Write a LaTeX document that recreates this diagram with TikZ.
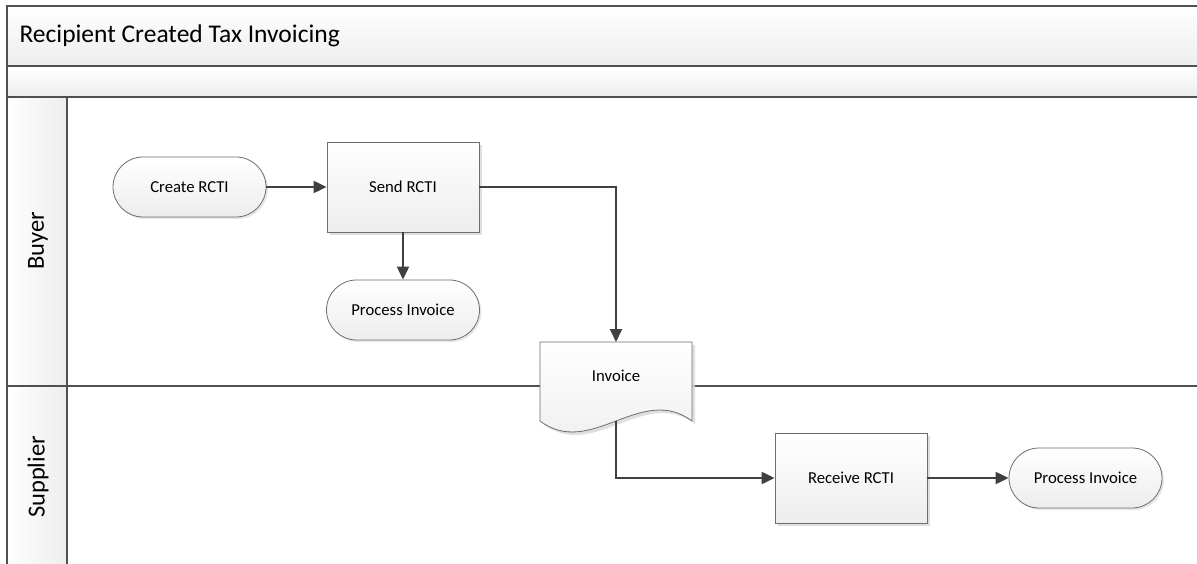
\documentclass[tikz,border=0pt]{standalone}
\usepackage{fontspec}
\setmainfont{Carlito}
\usetikzlibrary{arrows.meta,shapes.misc,calc,shadows}
\definecolor{frameline}{HTML}{505050}
\definecolor{shapeline}{HTML}{6E6E6E}
\definecolor{flowline}{HTML}{404040}
\definecolor{fillbot}{HTML}{EDEDED}
\definecolor{shadowc}{HTML}{D8D8D8}
\tikzset{
  band/.style={draw=frameline, line width=2pt, top color=white, bottom color=fillbot},
  lanehead/.style={draw=frameline, line width=1.5pt, left color=white, right color=fillbot},
  lanetext/.style={font=\fontsize{24.5}{28}\selectfont, rotate=90},
  stadium/.style={rounded rectangle, draw=shapeline, line width=0.8pt,
    top color=white, bottom color=fillbot, minimum width=153pt, minimum height=60pt,
    inner sep=0pt, font=\fontsize{16.7}{20}\selectfont,
    drop shadow={shadow xshift=2pt, shadow yshift=-2pt, fill=shadowc, opacity=0.6}},
  procbox/.style={rectangle, draw=shapeline, line width=0.8pt,
    top color=white, bottom color=fillbot, minimum width=152pt, minimum height=90pt,
    inner sep=0pt, font=\fontsize{16.7}{20}\selectfont,
    drop shadow={shadow xshift=3pt, shadow yshift=-3pt, fill=shadowc, opacity=0.8}},
  flow/.style={draw=flowline, line width=2pt, -{Triangle[length=13pt,width=12pt]}},
}
\begin{document}
\begin{tikzpicture}[x=1pt, y=-1pt]
\useasboundingbox (0,0) rectangle (1197,564);
\begin{scope}
\clip (0,0) rectangle (1197,564);
% pool header and sub-header
\draw[band] (7,6) rectangle (1210,66);
\draw[band] (7,66) rectangle (1210,97);
\node[anchor=west, font=\fontsize{25.5}{30}\selectfont] (title) at (16,36) {Recipient Created Tax Invoicing};
% lanes
\draw[draw=frameline, line width=1.5pt, fill=white] (7,97) rectangle (1210,570);
\draw[draw=frameline, line width=1.5pt] (7,386) -- (1210,386);
\draw[lanehead] (7,97) rectangle (67,386);
\draw[lanehead] (7,386) rectangle (67,570);
\node[lanetext] (buyer) at (38,241) {Buyer};
\node[lanetext] (supplier) at (38,477) {Supplier};
\end{scope}

% buyer lane shapes
\node[stadium] (create) at (189.5,187) {Create RCTI};
\node[procbox] (send) at (403,187) {Send RCTI};
\node[stadium] (procb) at (403,310) {Process Invoice};

% invoice document (wavy bottom)
\fill[shadowc, opacity=0.8] (543,345) -- (695,345) -- (695,424)
  .. controls (644,386) and (594,462) .. (543,424) -- cycle;
\shade[top color=white, bottom color=fillbot, draw=shapeline, line width=0.8pt]
  (540,342) -- (692,342) -- (692,421)
  .. controls (641,383) and (591,459) .. (540,421) -- cycle;
\node[minimum width=152pt, minimum height=70pt, inner sep=0pt,
  font=\fontsize{16.7}{20}\selectfont] (inv) at (616,376) {Invoice};
\coordinate (invtop) at (616,342);
\coordinate (invbot) at (616,421);

% supplier lane shapes
\node[procbox] (recv) at (851,478) {Receive RCTI};
\node[stadium] (procs) at (1085.5,478) {Process Invoice};

% connectors
\draw[flow] (create.east) -- (send.west);
\draw[flow] (send.south) -- (procb.north);
\draw[flow] (send.east) -| (invtop);
\draw[flow] (invbot) |- (recv.west);
\draw[flow] (recv.east) -- (procs.west);
\end{tikzpicture}
\end{document}
